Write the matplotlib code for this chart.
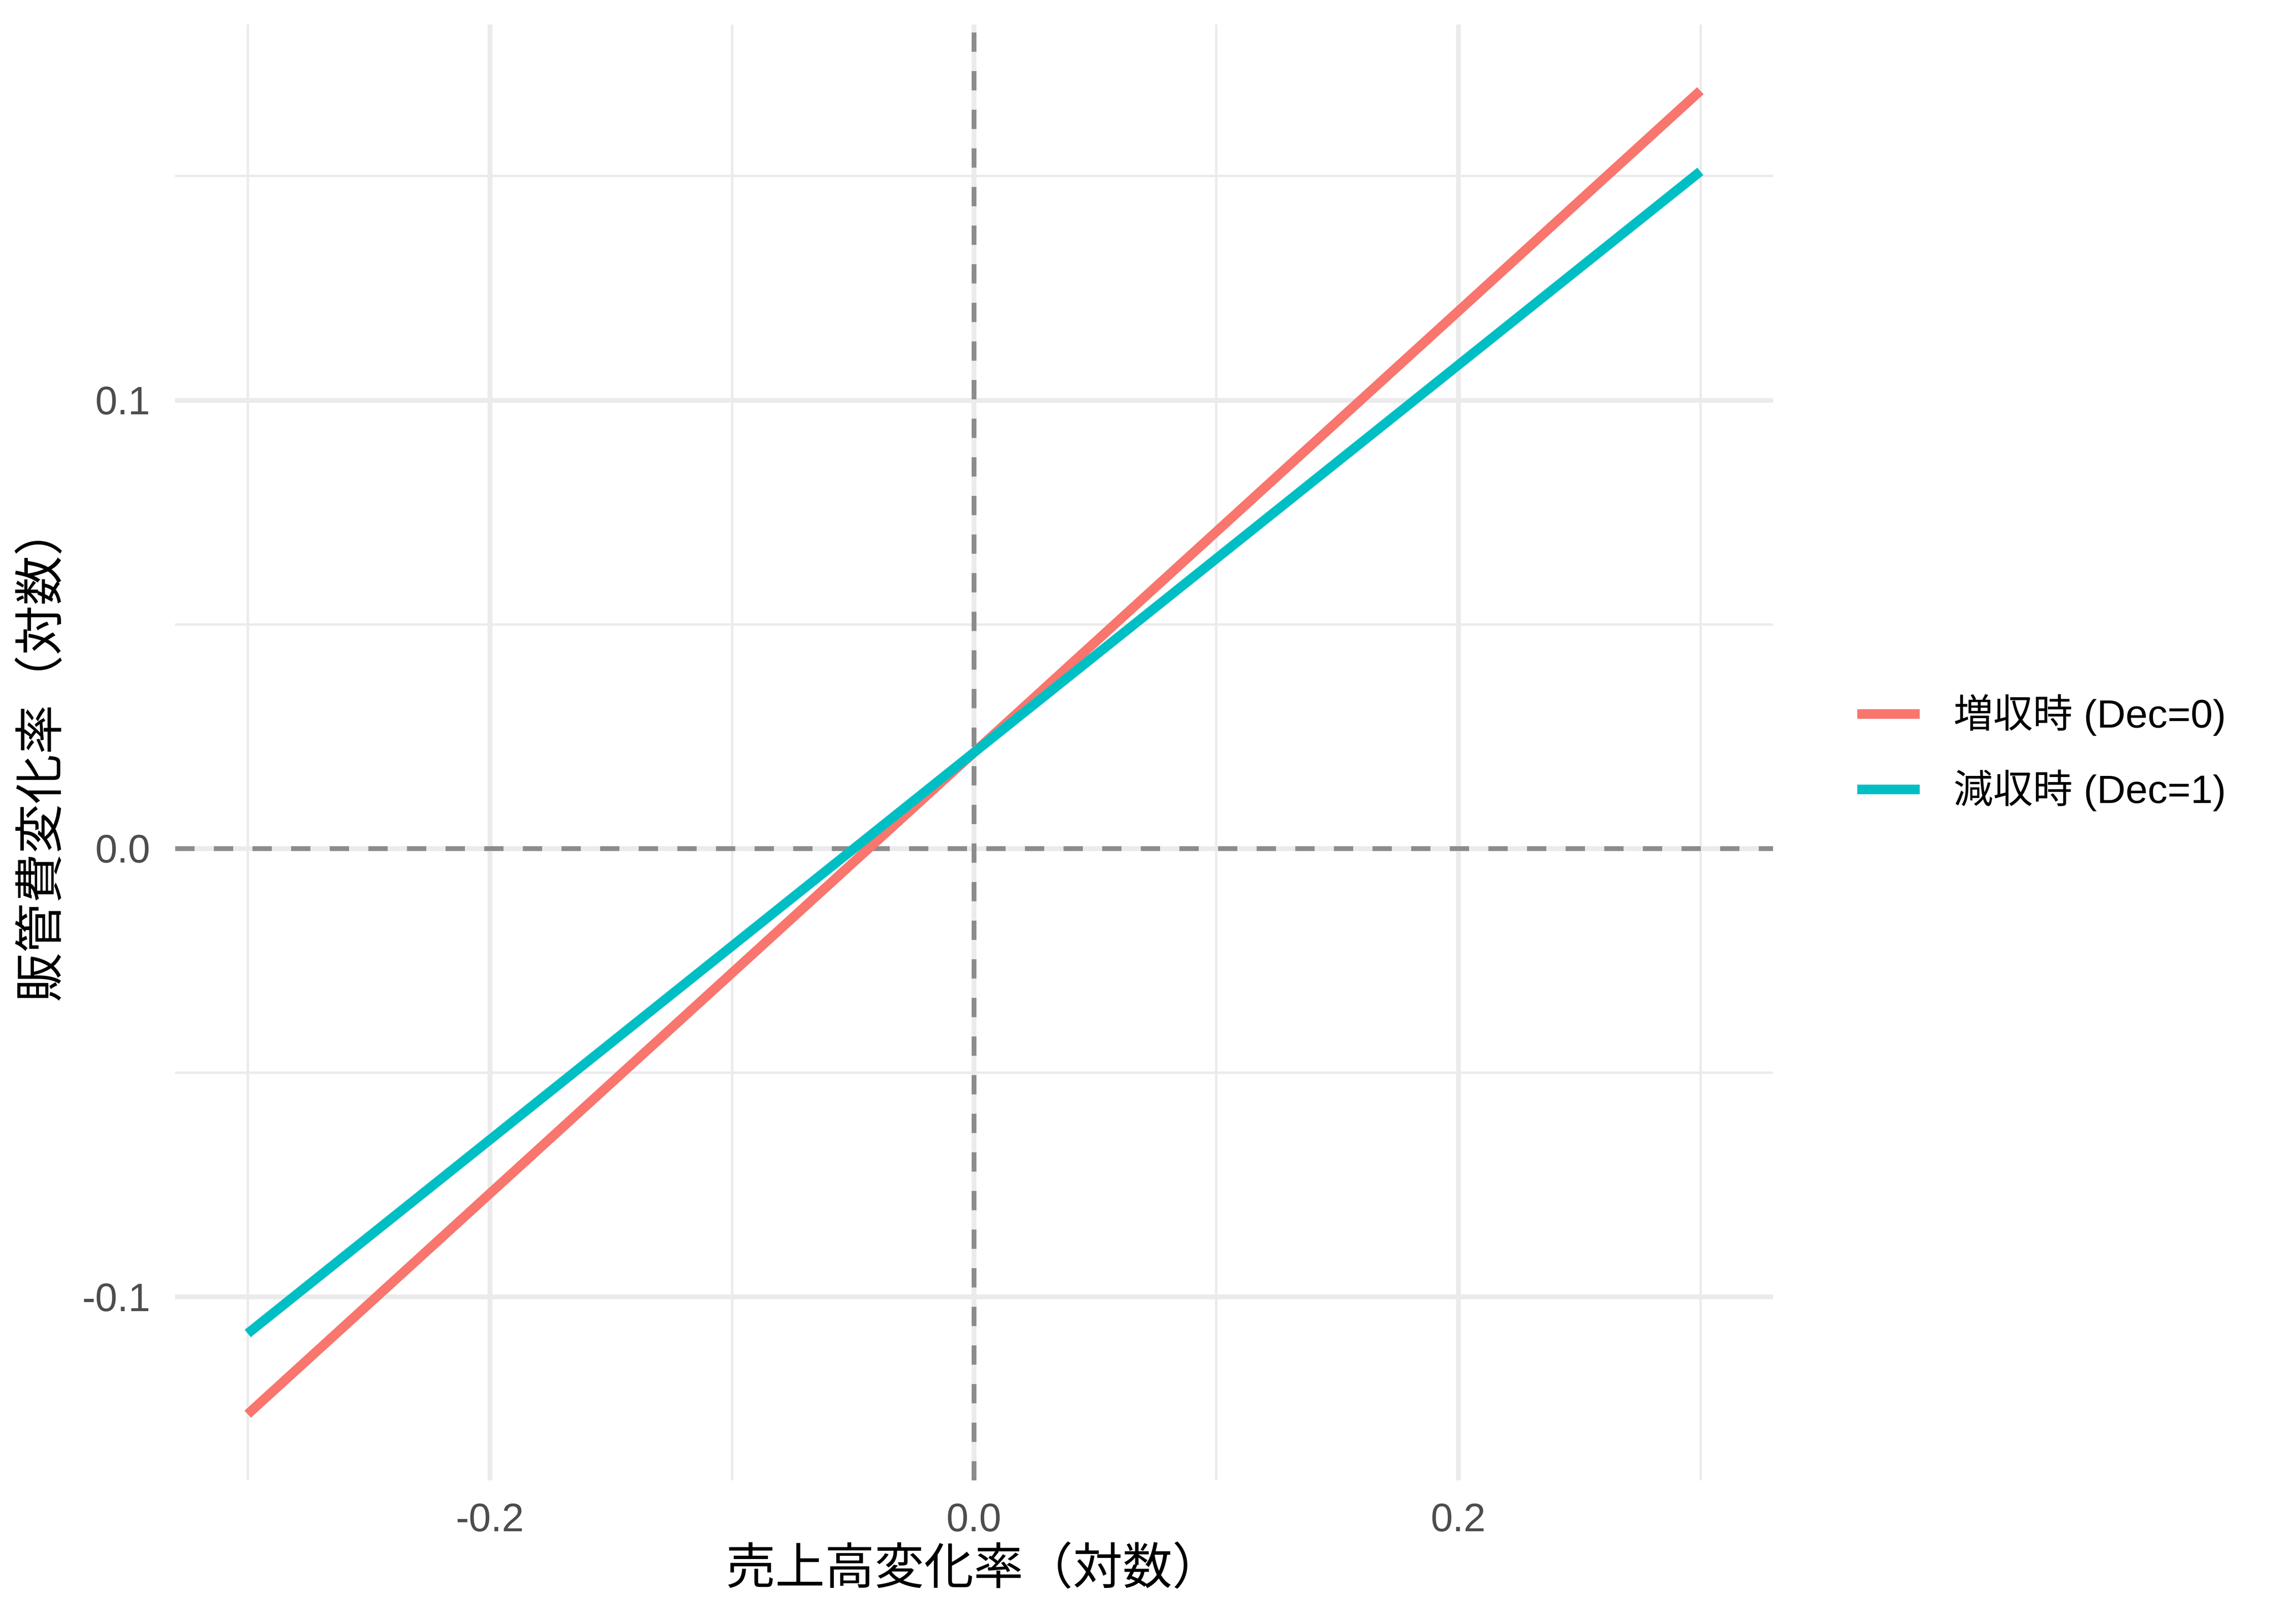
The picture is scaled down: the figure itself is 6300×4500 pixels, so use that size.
import matplotlib
matplotlib.use("Agg")
import matplotlib.pyplot as plt
import numpy as np

# ---- data ----
x_vals = [-0.3, 0.3]
inc_vals = [-0.1262, 0.1690]   # 増収時 (Dec=0)
dec_vals = [-0.1082, 0.1510]   # 減収時 (Dec=1)
series_labels = ["増収時 (Dec=0)", "減収時 (Dec=1)"]
series_colors = ["#F8766D", "#00BFC4"]
x_major = [-0.2, 0.0, 0.2]
x_minor = [-0.3, -0.1, 0.1, 0.3]
y_major = [-0.1, 0.0, 0.1]
y_minor = [-0.05, 0.05, 0.15]
x_ticklabels = ["-0.2", "0.0", "0.2"]
y_ticklabels = ["-0.1", "0.0", "0.1"]
xlabel = "売上高変化率（対数）"
ylabel = "販管費変化率（対数）"

plt.rcParams['axes.unicode_minus'] = False
CJK = ['Noto Sans CJK JP', 'DejaVu Sans']
LAT = ['Liberation Sans', 'Noto Sans CJK JP', 'DejaVu Sans']

fig = plt.figure(figsize=(7, 5), dpi=900)
W, H = 6300, 4500
left, right, top, bottom = 485 / W, 4912 / W, 1 - 68 / H, 1 - 4102 / H
ax = fig.add_axes([left, bottom, right - left, top - bottom])

# limits with ggplot 5% expansion
xmin, xmax = min(x_vals), max(x_vals)
xr = xmax - xmin
ax.set_xlim(xmin - 0.05 * xr, xmax + 0.05 * xr)
allv = inc_vals + dec_vals
ymin, ymax = min(allv), max(allv)
yr = ymax - ymin
ax.set_ylim(ymin - 0.05 * yr, ymax + 0.05 * yr)

grid_col = "#EBEBEB"
for v in x_minor:
    ax.axvline(v, color=grid_col, lw=0.53, zorder=0)
for v in y_minor:
    ax.axhline(v, color=grid_col, lw=0.53, zorder=0)
for v in x_major:
    ax.axvline(v, color=grid_col, lw=1.07, zorder=0)
for v in y_major:
    ax.axhline(v, color=grid_col, lw=1.07, zorder=0)

ax.axhline(0, color="#8C8C8C", lw=1.07, linestyle=(0, (4, 4)), zorder=1)
ax.axvline(0, color="#8C8C8C", lw=1.07, linestyle=(0, (4, 4)), zorder=1)

for yv, lab, col in zip([inc_vals, dec_vals], series_labels, series_colors):
    ax.plot(x_vals, yv, color=col, lw=2.13, solid_capstyle='butt', label=lab, zorder=3)

for s in ax.spines.values():
    s.set_visible(False)
ax.set_xticks(x_major)
ax.set_xticklabels(x_ticklabels)
ax.set_yticks(y_major)
ax.set_yticklabels(y_ticklabels)
ax.tick_params(axis='both', length=0, labelsize=8.8, labelcolor="#4D4D4D")
ax.tick_params(axis='x', pad=5.0)
ax.tick_params(axis='y', pad=5.5)
for t in ax.get_xticklabels() + ax.get_yticklabels():
    t.set_fontfamily(LAT)

ax.set_xlabel(xlabel, fontsize=11, family=CJK, color="black")
ax.set_ylabel(ylabel, fontsize=11, family=CJK, color="black")
ax.xaxis.set_label_coords(0.5, ((1 - 4350 / H) - bottom) / (top - bottom))
ax.xaxis.label.set_va('center')
ax.yaxis.set_label_coords((115 - 485) / (4912 - 485), 0.5)
ax.yaxis.label.set_va('center')

leg = ax.legend(loc='center left', bbox_to_anchor=(5145 / W, 1 - 2086 / H),
                bbox_transform=fig.transFigure, frameon=False, borderpad=0,
                borderaxespad=0, handlelength=1.57, handletextpad=0.86,
                labelspacing=0.85, prop={'family': LAT, 'size': 8.8})

fig.savefig("out.png", dpi=900, facecolor="white")
